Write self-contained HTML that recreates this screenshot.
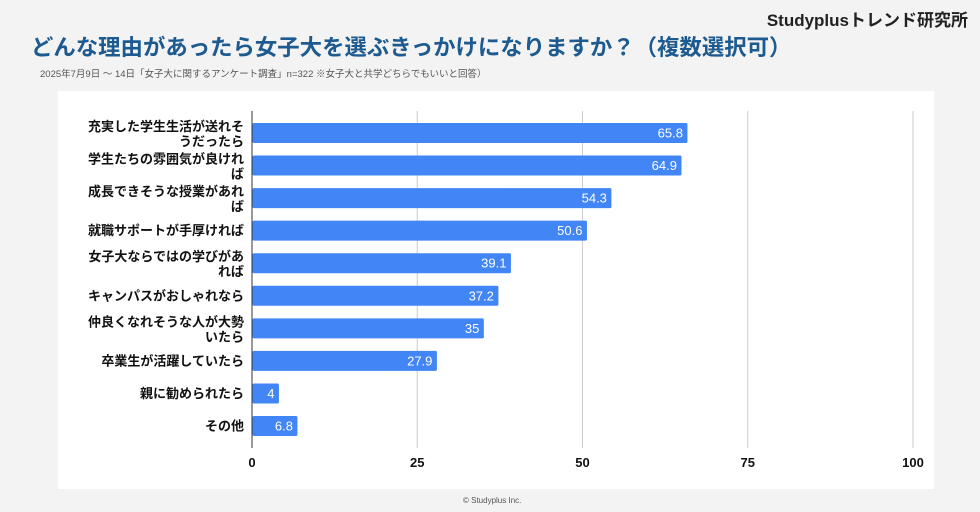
<!DOCTYPE html>
<html><head><meta charset="utf-8">
<style>
body{margin:0;width:980px;height:512px;background:#f3f3f3;font-family:"Liberation Sans","Noto Sans CJK JP",sans-serif;position:relative;overflow:hidden}
.t{position:absolute;white-space:nowrap}
</style></head><body>
<div class="t" style="right:12px;top:6px;font-size:17px;font-weight:bold;color:#222">Studyplusトレンド研究所</div>
<div class="t" style="left:31px;top:30px;font-size:22.4px;font-weight:bold;color:#1d5a8f">どんな理由があったら女子大を選ぶきっかけになりますか？（複数選択可）</div>
<div class="t" style="left:40px;top:66px;font-size:9.5px;color:#555">2025年7月9日 ～ 14日「女子大に関するアンケート調査」n=322 ※女子大と共学どちらでもいいと回答）</div>
<div style="position:absolute;left:58px;top:91px;width:876px;height:398px;background:#fff"></div>
<svg id="c" width="980" height="512" style="position:absolute;left:0;top:0"></svg>
<div class="t" style="left:463px;top:496px;font-size:8px;color:#555">© Studyplus Inc.</div>
<script>
const categories=["充実した学生生活が送れそうだったら","学生たちの雰囲気が良ければ","成長できそうな授業があれば","就職サポートが手厚ければ","女子大ならではの学びがあれば","キャンパスがおしゃれなら","仲良くなれそうな人が大勢いたら","卒業生が活躍していたら","親に勧められたら","その他"];
const labelLine1=["充実した学生生活が送れそ","学生たちの雰囲気が良けれ","成長できそうな授業があれ","就職サポートが手厚ければ","女子大ならではの学びがあ","キャンパスがおしゃれなら","仲良くなれそうな人が大勢","卒業生が活躍していたら","親に勧められたら","その他"];
const labelLine2=["うだったら","ば","ば","","れば","","いたら","","",""];
const values=[65.8,64.9,54.3,50.6,39.1,37.2,35,27.9,4,6.8];
const ticks=[0,25,50,75,100];
const svg=document.getElementById('c');
const NS='http://www.w3.org/2000/svg';
const x=v=>252+v*6.61;
const yc=i=>133+i*32.56;
function mk(t,a){const e=document.createElementNS(NS,t);for(const k in a)e.setAttribute(k,a[k]);svg.appendChild(e);return e;}
ticks.forEach(t=>{
 const l=mk('line',{x1:x(t),x2:x(t),y1:111,y2:448,stroke:t===0?'#333':'#ccc','stroke-width':1});
 
 
 const tx=mk('text',{x:x(t),y:467,'text-anchor':'middle','font-size':13,'font-weight':'bold',fill:'#111'});
 tx.textContent=t;
 
 
});
values.forEach((v,i)=>{
 const r=mk('rect',{x:x(0)+0.5,y:yc(i)-10,width:x(v)-x(0),height:20,fill:'#4285f4',rx:1.5});
 
 
 const vt=mk('text',{x:x(v)-4,y:yc(i)+4.5,'text-anchor':'end','font-size':13,fill:'#fff'});
 vt.textContent=v;
 
 
 const two=labelLine2[i]!=='';
 const l1=mk('text',{x:244,y:two?yc(i)-2:yc(i)+4.5,'text-anchor':'end','font-size':13,'font-weight':'bold',fill:'#111'});
 l1.textContent=labelLine1[i];
 
 
 if(two){const l2=mk('text',{x:244,y:yc(i)+13,'text-anchor':'end','font-size':13,'font-weight':'bold',fill:'#111'});
 l2.textContent=labelLine2[i];
 
 }
});
</script>
</body></html>
